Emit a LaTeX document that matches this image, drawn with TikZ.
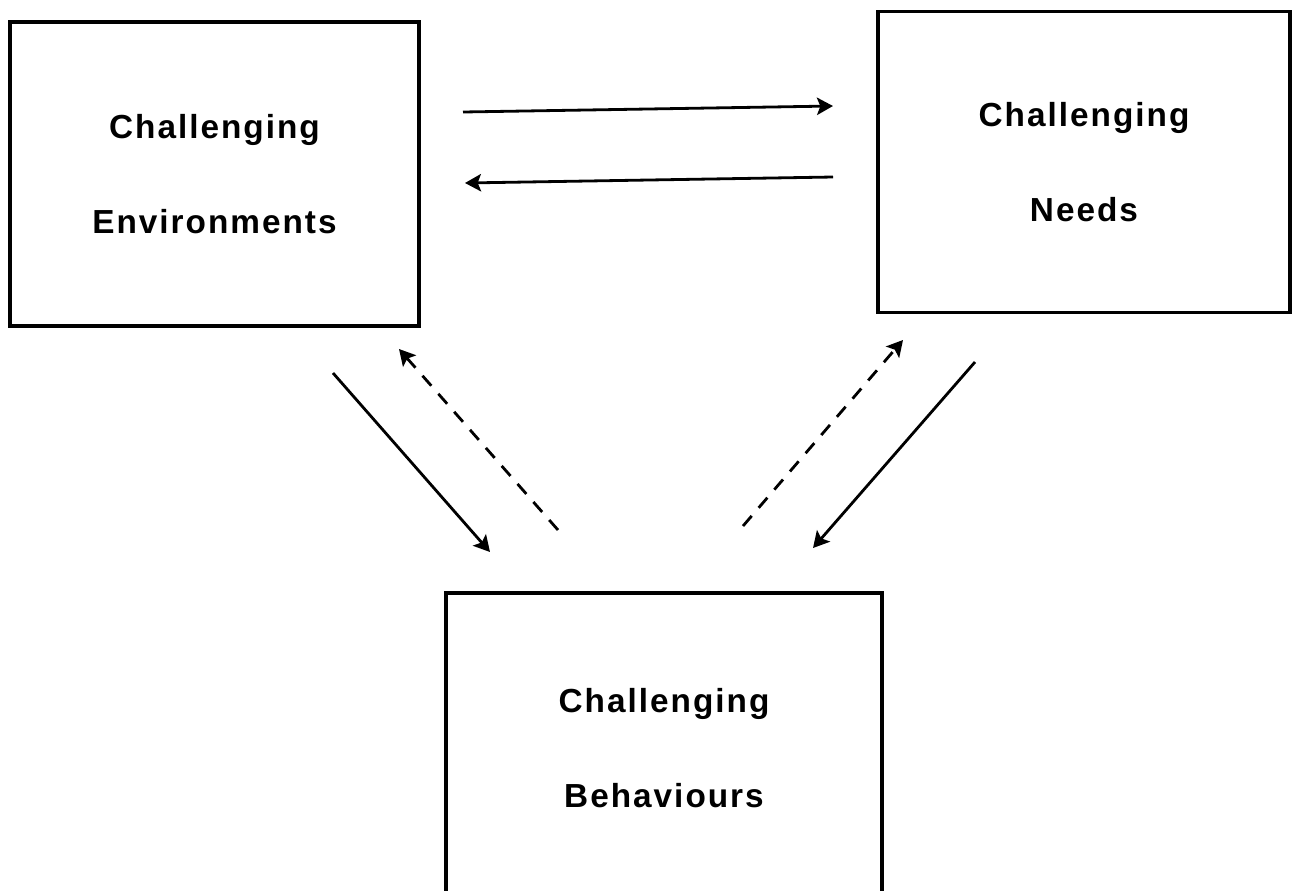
\documentclass[tikz,border=0pt]{standalone}
\usepackage{fontspec}
\usetikzlibrary{arrows.meta}
\newfontfamily\boxfont[LetterSpace=6.0]{Liberation Sans}

\begin{document}
\begin{tikzpicture}
        [x=0.75pt,y=-0.75pt,every node/.style={draw,shape=rectangle,line width=2.4pt,align=center,font=\boxfont\bfseries\fontsize{25}{71}\selectfont}, every path/.style={line width=2.1pt}, tip/.style={-{Stealth[length=12pt,width=13pt,inset=2.5pt]}}, back/.style={dash pattern=on 10pt off 8pt}]

        \useasboundingbox (0,0) rectangle (1298,890);

        \node[minimum width=306.75pt, minimum height=228pt] (env) at (214.5, 174) {Challenging\\Environments};
        \node[minimum width=309pt, minimum height=225.75pt] (needs) at (1084, 162) {Challenging\\Needs};
        \node[minimum width=327pt, minimum height=232.5pt] (behav) at (664, 748) {Challenging\\Behaviours};

        \coordinate (en1) at (463, 112);
        \coordinate (en2) at (833, 106);
        \coordinate (ne1) at (833, 177);
        \coordinate (ne2) at (465, 183);
        \coordinate (eb1) at (333, 373);
        \coordinate (eb2) at (490, 552);
        \coordinate (be1) at (558, 530);
        \coordinate (be2) at (399, 349);
        \coordinate (bn1) at (743, 526);
        \coordinate (bn2) at (903, 340);
        \coordinate (nb1) at (975, 362);
        \coordinate (nb2) at (813, 548);

        \draw[tip] (en1) -- (en2);
        \draw[tip] (ne1) -- (ne2);
        \draw[tip] (eb1) -- (eb2);
        \draw[tip, back] (be1) -- (be2);
        \draw[tip, back] (bn1) -- (bn2);
        \draw[tip] (nb1) -- (nb2);

      \end{tikzpicture}
\end{document}
